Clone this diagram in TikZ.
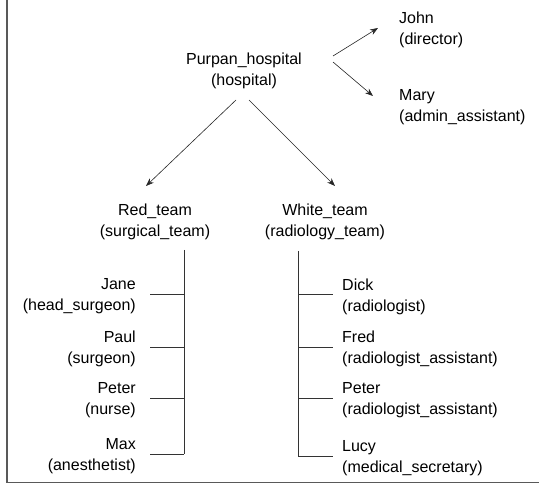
\documentclass[tikz,border=0pt]{standalone}
\usepackage{fontspec}
\setmainfont{Liberation Sans}
\usetikzlibrary{arrows.meta}
\tikzset{
  lbl/.style={inner sep=0pt, font=\fontsize{16pt}{21pt}\selectfont},
  arr/.style={draw=black!85, line width=0.6pt, -{Stealth[length=8pt,width=6pt]}},
  con/.style={draw=black!80, line width=1pt},
  frame/.style={draw=black!65, line width=1.6pt}
}
\begin{document}
\begin{tikzpicture}[x=1pt,y=-1pt]
\useasboundingbox (0,0) rectangle (539,484);
% frame
\coordinate (ftop) at (7,0);
\coordinate (fcorner) at (7,482.5);
\coordinate (fright) at (539,482.5);
\draw[frame] (ftop) -- (fcorner) -- (fright);
% nodes
\node[lbl, align=center] (purpan) at (244,70.5) {Purpan\_hospital\\(hospital)};
\node[lbl, align=left, anchor=west] (john) at (399,30) {John\\(director)};
\node[lbl, align=left, anchor=west] (mary) at (399,107.5) {Mary\\(admin\_assistant)};
\node[lbl, align=center] (red) at (155,222) {Red\_team\\(surgical\_team)};
\node[lbl, align=center] (white) at (325,222) {White\_team\\(radiology\_team)};
% arrows
\coordinate (pj0) at (333,56);
\coordinate (pj1) at (378,28);
\coordinate (pm0) at (333,62);
\coordinate (pm1) at (373,96);
\coordinate (pr0) at (236,100);
\coordinate (pr1) at (146,186);
\coordinate (pw0) at (249,100);
\coordinate (pw1) at (335,186);
\draw[arr] (pj0) -- (pj1);
\draw[arr] (pm0) -- (pm1);
\draw[arr] (pr0) -- (pr1);
\draw[arr] (pw0) -- (pw1);
% red team members
\node[lbl, align=right, anchor=east] (jane) at (136,296.5) {Jane\\(head\_surgeon)};
\node[lbl, align=right, anchor=east] (paul) at (136,348.5) {Paul\\(surgeon)};
\node[lbl, align=right, anchor=east] (peter1) at (136,400) {Peter\\(nurse)};
\node[lbl, align=right, anchor=east] (max) at (136,456) {Max\\(anesthetist)};
% white team members
\node[lbl, align=left, anchor=west] (dick) at (342,296.5) {Dick\\(radiologist)};
\node[lbl, align=left, anchor=west] (fred) at (342,348.5) {Fred\\(radiologist\_assistant)};
\node[lbl, align=left, anchor=west] (peter2) at (342,400) {Peter\\(radiologist\_assistant)};
\node[lbl, align=left, anchor=west] (lucy) at (342,458) {Lucy\\(medical\_secretary)};
% red team tree
\coordinate (rtop) at (184,250);
\coordinate (rb) at (184,454);
\draw[con] (rtop) -- (rb);
\coordinate (rj) at (184,295); \coordinate (rj2) at (150,295);
\coordinate (rp) at (184,347); \coordinate (rp2) at (150,347);
\coordinate (rn) at (184,398); \coordinate (rn2) at (150,398);
\coordinate (rm2) at (150,454);
\draw[con] (rj) -- (rj2);
\draw[con] (rp) -- (rp2);
\draw[con] (rn) -- (rn2);
\draw[con] (rb) -- (rm2);
% white team tree
\coordinate (wtop) at (298,251);
\coordinate (wb) at (298,456);
\draw[con] (wtop) -- (wb);
\coordinate (wd) at (298,295); \coordinate (wd2) at (333,295);
\coordinate (wf) at (298,347); \coordinate (wf2) at (333,347);
\coordinate (wp) at (298,398); \coordinate (wp2) at (333,398);
\coordinate (wl2) at (333,456);
\draw[con] (wd) -- (wd2);
\draw[con] (wf) -- (wf2);
\draw[con] (wp) -- (wp2);
\draw[con] (wb) -- (wl2);
\end{tikzpicture}
\end{document}
